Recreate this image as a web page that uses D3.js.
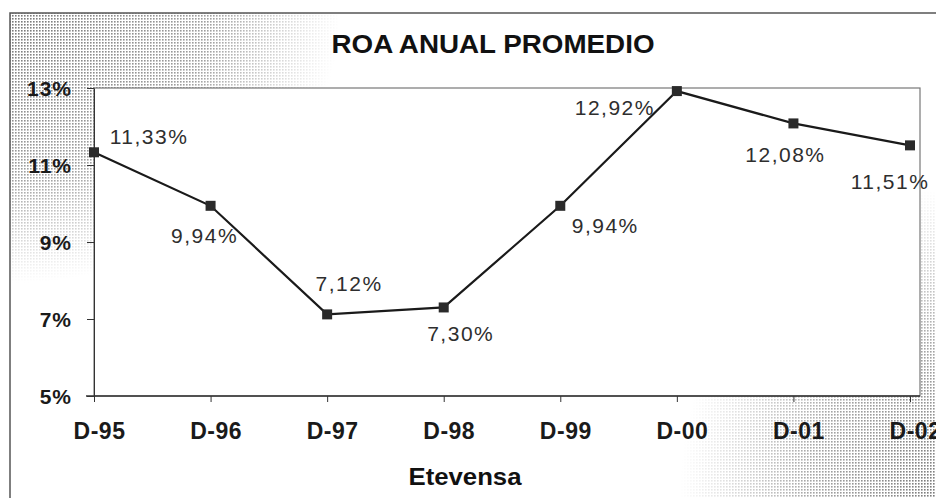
<!DOCTYPE html>
<head>
<meta charset="utf-8">
<title>ROA Anual Promedio</title>
<style>
body { margin: 0; background: #fff; font-family: Arial, "Liberation Sans", sans-serif; }
.axis text { font-family: Arial, "Liberation Sans", sans-serif; font-weight: bold; fill: #1a1a1a; }
.axis path, .axis line { stroke: #333; }
.lbl { font-size: 21px; fill: #2e2e2e; letter-spacing: 1.5px; }
</style>
<script src="https://cdnjs.cloudflare.com/ajax/libs/d3/7.8.5/d3.min.js"></script>
</head>
<body>
<script>
// data
var years = ["D-95", "D-96", "D-97", "D-98", "D-99", "D-00", "D-01", "D-02"];
var roa = [11.33, 9.94, 7.12, 7.30, 9.94, 12.92, 12.08, 11.51];
var labels = ["11,33%", "9,94%", "7,12%", "7,30%", "9,94%", "12,92%", "12,08%", "11,51%"];
var yTicks = [5, 7, 9, 11, 13];

// label offsets from point (dx, dy)
var offs = [[55, -16], [-6, 30], [22, -31], [17, 26], [45, 20], [-62, 16], [-8, 31], [-20, 36]];

var width = 936, height = 498;
var plot = { left: 94, top: 88, right: 920, bottom: 396 };

var svg = d3.select("body").append("svg")
    .attr("width", width)
    .attr("height", height);

var defs = svg.append("defs");
var pat = defs.append("pattern")
    .attr("id", "dots").attr("width", 3).attr("height", 3)
    .attr("patternUnits", "userSpaceOnUse");
pat.append("rect").attr("width", 1.6).attr("height", 1.6).attr("fill", "#6a6a6a");

// white fades that soften the dotted corners
var g1 = defs.append("radialGradient").attr("id", "fadeTL")
    .attr("cx", 0).attr("cy", 0).attr("r", 1);
g1.append("stop").attr("offset", "0%").attr("stop-color", "#fff").attr("stop-opacity", 0.1);
g1.append("stop").attr("offset", "60%").attr("stop-color", "#fff").attr("stop-opacity", 0.35);
g1.append("stop").attr("offset", "100%").attr("stop-color", "#fff").attr("stop-opacity", 1);
var g2 = defs.append("radialGradient").attr("id", "fadeBR")
    .attr("cx", 1).attr("cy", 1).attr("r", 1);
g2.append("stop").attr("offset", "0%").attr("stop-color", "#fff").attr("stop-opacity", 0.1);
g2.append("stop").attr("offset", "50%").attr("stop-color", "#fff").attr("stop-opacity", 0.4);
g2.append("stop").attr("offset", "100%").attr("stop-color", "#fff").attr("stop-opacity", 1);

// textured corners inside the outer frame
svg.append("rect")
    .attr("x", 10).attr("y", 13).attr("width", 330).attr("height", 270)
    .attr("fill", "url(#dots)");
svg.append("rect")
    .attr("x", 10).attr("y", 13).attr("width", 330).attr("height", 270)
    .attr("fill", "url(#fadeTL)");
svg.append("rect")
    .attr("x", 680).attr("y", 190).attr("width", 256).attr("height", 308)
    .attr("fill", "url(#dots)");
svg.append("rect")
    .attr("x", 680).attr("y", 190).attr("width", 256).attr("height", 308)
    .attr("fill", "url(#fadeBR)");

// outer frame
svg.append("path")
    .attr("d", "M10," + height + "V13H" + width)
    .attr("fill", "none").attr("stroke", "#555").attr("stroke-width", 1.5);

// scales
var x = d3.scalePoint().domain(years).range([plot.left, 910]);
var y = d3.scaleLinear().domain([5, 13]).range([plot.bottom, plot.top]);

// plot area
svg.append("rect")
    .attr("x", plot.left).attr("y", plot.top)
    .attr("width", plot.right - plot.left).attr("height", plot.bottom - plot.top)
    .attr("fill", "#fff").attr("stroke", "#777").attr("stroke-width", 1.2);

// axes
svg.append("g")
    .attr("class", "axis")
    .attr("transform", "translate(0," + plot.bottom + ")")
    .call(d3.axisBottom(x).tickSize(6).tickPadding(21).tickSizeOuter(0))
    .call(function(g) {
      g.select(".domain").attr("d", "M" + (plot.left - 8) + ",0H" + plot.right).attr("stroke-width", 1.6);
      g.selectAll("text").attr("x", 5).style("font-size", "23px").style("letter-spacing", "0.5px");
    });

svg.append("g")
    .attr("class", "axis")
    .attr("transform", "translate(" + plot.left + ",0)")
    .call(d3.axisLeft(y).tickValues(yTicks).tickSize(7).tickPadding(15)
        .tickFormat(function(d) { return d + "%"; }).tickSizeOuter(0))
    .call(function(g) {
      g.select(".domain").attr("stroke", "#777");
      g.selectAll("text").attr("dy", "0.36em").style("font-size", "21px").style("letter-spacing", "1px");
    });

// line
svg.append("path")
    .datum(roa)
    .attr("fill", "none").attr("stroke", "#1a1a1a").attr("stroke-width", 2.2)
    .attr("d", d3.line()
        .x(function(d, i) { return x(years[i]); })
        .y(function(d) { return y(d); }));

// markers
svg.selectAll(".mk")
    .data(roa)
    .enter().append("rect")
    .attr("class", "mk")
    .attr("x", function(d, i) { return x(years[i]) - 5; })
    .attr("y", function(d) { return y(d) - 5; })
    .attr("width", 10).attr("height", 10)
    .attr("fill", "#2a2a2a");

// data labels
svg.selectAll(".lbl")
    .data(roa)
    .enter().append("text")
    .attr("class", "lbl")
    .attr("text-anchor", "middle")
    .attr("x", function(d, i) { return x(years[i]) + offs[i][0]; })
    .attr("y", function(d, i) { return y(d) + offs[i][1]; })
    .attr("dy", "0.36em")
    .text(function(d, i) { return labels[i]; });

// title
svg.append("text")
    .attr("x", 493).attr("y", 44).attr("dy", "0.36em")
    .attr("text-anchor", "middle")
    .attr("textLength", 323).attr("lengthAdjust", "spacingAndGlyphs")
    .style("font-size", "25px").style("font-weight", "bold")
    .attr("fill", "#111")
    .text("ROA ANUAL PROMEDIO");

// x axis title
svg.append("text")
    .attr("x", 465).attr("y", 476).attr("dy", "0.36em")
    .attr("text-anchor", "middle")
    .attr("textLength", 113).attr("lengthAdjust", "spacingAndGlyphs")
    .style("font-size", "24px").style("font-weight", "bold")
    .attr("fill", "#111")
    .text("Etevensa");
</script>
</body>
